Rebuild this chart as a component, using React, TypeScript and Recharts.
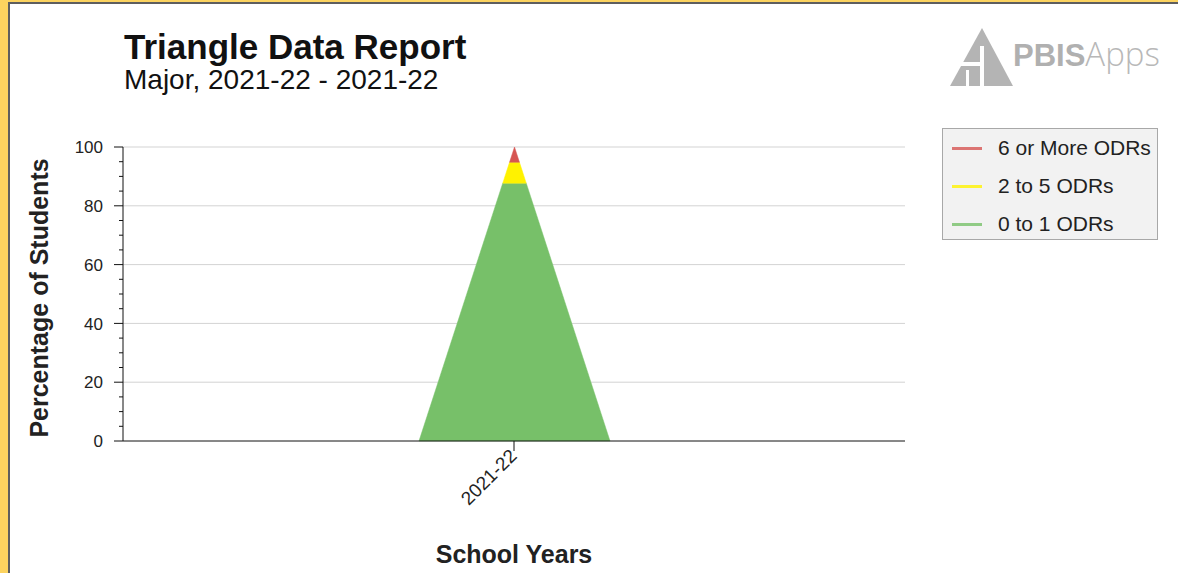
import { Bar, BarChart, CartesianGrid, Label, Legend, XAxis, YAxis } from "recharts";

// values (percent of students, stacked)
const YEARS = ["2021-22"];
const ZERO_TO_ONE = [87.7];
const TWO_TO_FIVE = [7.1];
const SIX_OR_MORE = [5.2];

const Y_TICKS = [0, 5, 10, 15, 20, 25, 30, 35, 40, 45, 50, 55, 60, 65, 70, 75, 80, 85, 90, 95, 100];
const GRID_VALUES = [20, 40, 60, 80, 100];

// stack order bottom -> top
const SERIES = [
  { key: "low", name: "0 to 1 ODRs", color: "#77c069" },
  { key: "mid", name: "2 to 5 ODRs", color: "#fff200" },
  { key: "high", name: "6 or More ODRs", color: "#d65552" },
];

const data = YEARS.map((year, i) => ({
  year,
  low: ZERO_TO_ONE[i],
  mid: TWO_TO_FIVE[i],
  high: SIX_OR_MORE[i],
}));

const FONT = "'Liberation Sans', Arial, sans-serif";
const TICK_SIZE = 9;
const TICK_MARGIN = 11;

// each stacked segment is cut as a slice of one big triangle:
// full bar width at 0, apex at the stack total
function TriangleSlice(props: any) {
  const { x, y, width, height, fill, payload, dataKey } = props;
  const idx = SERIES.findIndex((s) => s.key === dataKey);
  const own = payload[dataKey];
  if (!own || !height) return null;
  let below = 0;
  for (let i = 0; i < idx; i++) below += payload[SERIES[i].key];
  const total = SERIES.reduce((a, s) => a + payload[s.key], 0);
  const ppu = height / own;
  const yBase = y + height + below * ppu;
  const yApex = yBase - total * ppu;
  const cx = x + width / 2;
  const half = (yy: number) => ((width / 2) * (yy - yApex)) / (yBase - yApex);
  const top = y;
  const bot = y + height;
  const pts = [
    [cx - half(bot), bot],
    [cx - half(top), top],
    [cx + half(top), top],
    [cx + half(bot), bot],
  ]
    .map((p) => p.join(","))
    .join(" ");
  return <polygon points={pts} fill={fill} stroke={fill} strokeWidth={0.5} />;
}

function YTick(props: any) {
  const { x, y, payload } = props;
  const axisX = x + TICK_SIZE + TICK_MARGIN;
  const major = payload.value % 20 === 0;
  return (
    <g>
      <line x1={axisX - (major ? TICK_SIZE : 4)} x2={axisX} y1={y} y2={y} stroke="#111" strokeWidth={1} />
      {major && (
        <text x={x} y={y} dy="0.36em" textAnchor="end" fontFamily={FONT} fontSize={17} fill="#222">
          {payload.value}
        </text>
      )}
    </g>
  );
}

function XTick(props: any) {
  const { x, y, payload } = props;
  const ax = x + 4;
  const ay = y;
  return (
    <text
      x={ax}
      y={ay}
      textAnchor="end"
      transform={`rotate(-45, ${ax}, ${ay})`}
      fontFamily={FONT}
      fontSize={19}
      fill="#222"
    >
      {payload.value}
    </text>
  );
}

function LegendBox(props: any) {
  const items = [...(props.payload || [])].reverse();
  return (
    <div
      style={{
        width: 216,
        height: 112,
        boxSizing: "border-box",
        background: "#f2f2f2",
        border: "1px solid #a8a8a8",
        position: "relative",
        fontFamily: FONT,
      }}
    >
      {items.map((it: any, i: number) => (
        <div
          key={it.value}
          style={{ position: "absolute", left: 0, top: 19 + i * 38 - 12, height: 24, display: "flex", alignItems: "center" }}
        >
          <span style={{ display: "inline-block", marginLeft: 9, width: 30, height: 3, background: it.color, opacity: 0.8 }} />
          <span style={{ marginLeft: 16, fontSize: 21, color: "#222", whiteSpace: "nowrap" }}>{it.value}</span>
        </div>
      ))}
    </div>
  );
}

function Logo() {
  return (
    <svg width={258} height={90} style={{ position: "absolute", left: 920, top: 10 }}>
      <g transform="translate(-920,-10)">
        <polygon points="950,86 982,28 1013,86" fill="#b4b4b4" />
        <rect x={980} y={46} width={4} height={41} fill="#fff" />
        <rect x={955} y={62} width={25} height={4} fill="#fff" />
        <rect x={966} y={70} width={3} height={17} fill="#fff" />
        <text x={1013} y={66} fontFamily={FONT} fontWeight="bold" fontSize={31} fill="#b0b0b0">
          PBIS
          <tspan fontFamily="'Open Sans', 'Liberation Sans', sans-serif" fontWeight={300} fontSize={33} fill="#b8b8b8">
            Apps
          </tspan>
        </text>
      </g>
    </svg>
  );
}

export default function App() {
  return (
    <div
      style={{
        position: "fixed",
        left: 0,
        top: 0,
        width: 1178,
        height: 573,
        background: "#fff",
        overflow: "hidden",
      }}
    >
      {/* page frame */}
      <div style={{ position: "absolute", left: 0, top: 0, width: 1178, height: 2, background: "#fcd35f" }} />
      <div style={{ position: "absolute", left: 0, top: 0, width: 8, height: 573, background: "#fcd35f" }} />
      <div style={{ position: "absolute", left: 8, top: 2, width: 1170, height: 2, background: "#5e5e5e" }} />
      <div style={{ position: "absolute", left: 8, top: 2, width: 2, height: 571, background: "#5e5e5e" }} />

      <svg width={700} height={110} style={{ position: "absolute", left: 0, top: 0 }}>
        <text x={124} y={59} fontFamily={FONT} fontWeight="bold" fontSize={35} fill="#111">
          Triangle Data Report
        </text>
        <text x={124} y={89} fontFamily={FONT} fontSize={28} fill="#111">
          Major, 2021-22 - 2021-22
        </text>
      </svg>
      <Logo />

      <div style={{ position: "absolute", left: 0, top: 0 }}>
        <BarChart width={1178} height={573} data={data} margin={{ top: 147, right: 273, left: 0, bottom: 0 }}>
          <CartesianGrid vertical={false} horizontalValues={GRID_VALUES} stroke="#d3d3d3" />
          <XAxis
            dataKey="year"
            height={132}
            tickSize={10}
            tickMargin={6}
            tick={<XTick />}
            axisLine={{ stroke: "#111" }}
            tickLine={{ stroke: "#111" }}
          >
            <Label
              content={(p: any) => {
                const vb = p.viewBox;
                return (
                  <text
                    x={vb.x + vb.width / 2}
                    y={vb.y + 122}
                    textAnchor="middle"
                    fontFamily={FONT}
                    fontWeight="bold"
                    fontSize={25}
                    fill="#222"
                  >
                    School Years
                  </text>
                );
              }}
            />
          </XAxis>
          <YAxis
            width={123}
            domain={[0, 100]}
            ticks={Y_TICKS}
            interval={0}
            tickSize={TICK_SIZE}
            tickMargin={TICK_MARGIN}
            tickLine={false}
            tick={<YTick />}
            axisLine={{ stroke: "#111" }}
          >
            <Label
              content={(p: any) => {
                const vb = p.viewBox;
                const cx = 39;
                const cy = vb.y + vb.height / 2 + 4;
                return (
                  <text
                    x={cx}
                    y={cy}
                    dy="0.36em"
                    textAnchor="middle"
                    transform={`rotate(-90, ${cx}, ${cy})`}
                    fontFamily={FONT}
                    fontWeight="bold"
                    fontSize={25}
                    fill="#222"
                  >
                    Percentage of Students
                  </text>
                );
              }}
            />
          </YAxis>
          <Legend
            layout="vertical"
            align="center"
            verticalAlign="middle"
            content={<LegendBox />}
            wrapperStyle={{ position: "absolute", left: 942, top: 128, width: 216 }}
          />
          {SERIES.map((s) => (
            <Bar
              key={s.key}
              dataKey={s.key}
              name={s.name}
              stackId="tri"
              fill={s.color}
              barSize={191}
              isAnimationActive={false}
              shape={<TriangleSlice />}
            />
          ))}
        </BarChart>
      </div>
    </div>
  );
}
